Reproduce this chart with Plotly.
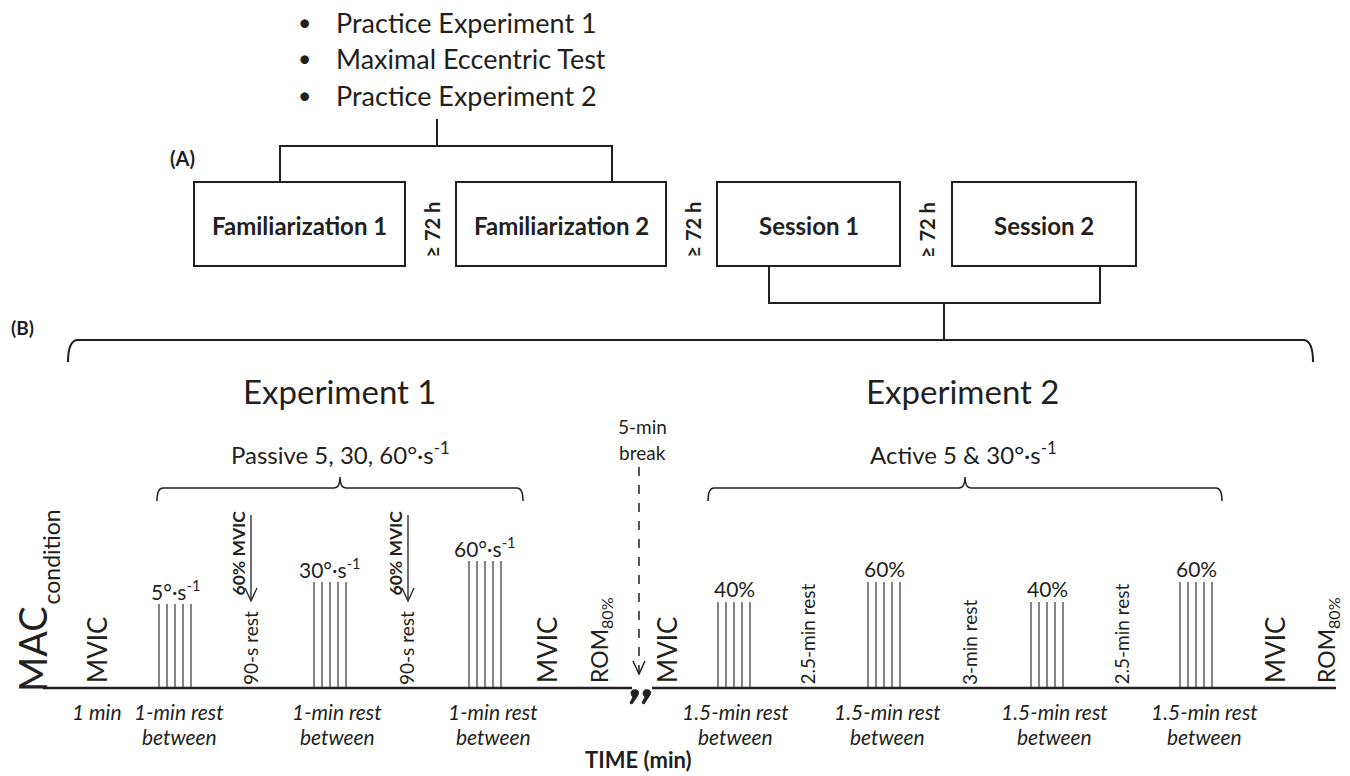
import plotly.graph_objects as go

INK = "#231f20"
FONT = "Lato, 'Open Sans', sans-serif"

# ---------------- data (labels / categories) ----------------
bullet_items = ["Practice Experiment 1", "Maximal Eccentric Test", "Practice Experiment 2"]
visit_labels = ["Familiarization 1", "Familiarization 2", "Session 1", "Session 2"]
gap_label = "≥ 72 h"
panel_labels = ["(A)", "(B)"]
experiment_titles = ["Experiment 1", "Experiment 2"]
experiment_conditions = ["Passive 5, 30, 60°·s<sup>-1</sup>", "Active 5 & 30°·s<sup>-1</sup>"]
exp1_set_labels = ["5°·s<sup>-1</sup>", "30°·s<sup>-1</sup>", "60°·s<sup>-1</sup>"]
exp2_set_labels = ["40%", "60%", "40%", "60%"]
reps_per_set = 5
exp1_cue_labels = ["60% MVIC", "60% MVIC"]
exp1_rest_labels = ["90-s rest", "90-s rest"]
exp2_rest_labels = ["2.5-min rest", "3-min rest", "2.5-min rest"]
exp1_between_labels = [("1 min", ""), ("1-min rest", "between"), ("1-min rest", "between"), ("1-min rest", "between")]
exp2_between_labels = [("1.5-min rest", "between")] * 4
test_labels = ["MVIC", "MVIC", "MVIC", "MVIC"]
rom_label = "ROM<sub>80%</sub>"
break_label = ["5-min", "break"]
axis_title = "TIME (min)"

# ---------------- layout geometry (diagram coordinates) ----------------
W, H = 1350, 776
box_x = [(194, 405), (456, 666), (717, 900), (952, 1136)]
box_y = (182, 266)
timeline_y = 688
exp1_set_x = [175, 330, 485]
exp1_set_top = [604, 582, 561]
exp2_set_x = [734, 884, 1047, 1196]
exp2_set_top = [602, 582, 602, 582]
rep_spacing = 8
cue_x = [251, 408]
cue_label_x = [238, 395]
rest1_x = [250, 406]
rest2_x = [807, 969, 1121]
test_x = [97, 547, 667, 1275]
rom_x = [600, 1327]
between1_x = [97, 179, 337, 493]
between2_x = [735, 887, 1054, 1204]

fig = go.Figure()
shapes = []
annotations = []


def line(x0, y0, x1, y1, w=2, dash="solid"):
    shapes.append(dict(type="line", xref="x", yref="y", x0=x0, y0=y0, x1=x1, y1=y1,
                       line=dict(color=INK, width=w, dash=dash)))


def path(d, w=2, fill=None):
    s = dict(type="path", xref="x", yref="y", path=d, line=dict(color=INK, width=w))
    if fill:
        s["fillcolor"] = fill
    shapes.append(s)


def text(x, y, s, size, bold=False, italic=False, angle=0, xa="center", ya="middle"):
    if bold:
        s = "<b>" + s + "</b>"
    if italic:
        s = "<i>" + s + "</i>"
    annotations.append(dict(x=x, y=y, xref="x", yref="y", text=s, showarrow=False,
                            textangle=angle, xanchor=xa, yanchor=ya,
                            font=dict(family=FONT, size=size, color=INK)))


# ---- Panel A ----
for i, item in enumerate(bullet_items):
    yy = [22, 58, 95][i]
    text(304, yy, "•", 23)
    text(334, yy, item, 27, xa="left")

line(437, 119, 437, 146)
path("M280,182 L280,146 L612,146 L612,182")
text(182, 158, panel_labels[0], 20, bold=True)

for (x0, x1), lab in zip(box_x, visit_labels):
    shapes.append(dict(type="rect", xref="x", yref="y", x0=x0, x1=x1, y0=box_y[0], y1=box_y[1],
                       line=dict(color=INK, width=2)))
    text((x0 + x1) / 2, 225, lab, 24, bold=True)

for i in range(3):
    gx = (box_x[i][1] + box_x[i + 1][0]) / 2
    text(gx + 1, 230, gap_label, 20, bold=True, angle=-90)

path("M769,266 L769,303 L1100,303 L1100,266")
line(944, 303, 944, 340)

# ---- Panel B ----
text(22, 327, panel_labels[1], 19, bold=True)
path("M68,362 Q68,340 78,340 L1303,340 Q1313,340 1313,362")

for title, cond, cx, (b0, b1) in zip(experiment_titles, experiment_conditions,
                                     [340, 963], [(157, 523), (708, 1222)]):
    text(cx, 391, title, 33)
    text(cx, 453, cond, 24)
    c = (b0 + b1) / 2
    path(f"M{b0},501 Q{b0},488 {b0+6},488 L{c-6},488 Q{c},488 {c},477 "
         f"Q{c},488 {c+6},488 L{b1-6},488 Q{b1},488 {b1},501", w=1.5)

# break
text(642, 426, break_label[0], 19)
text(642, 452, break_label[1], 19)
line(639, 467, 639, 673, w=1.5, dash="dash")
path("M633,661 L639,674 L645,661", w=1.5)

# timeline
line(43, timeline_y, 632, timeline_y, w=2.5)
line(652, timeline_y, 1336, timeline_y, w=2.5)
path("M633,690 C637,689 640,691 638,695 L632,704 L630,703 L633,697 C631,696 630,691 633,690 Z", w=1, fill=INK)
path("M645,690 C649,689 652,691 650,695 L644,704 L642,703 L645,697 C643,696 642,691 645,690 Z", w=1, fill=INK)

# MAC condition
text(32, 694, "MAC", 38, angle=-90, ya="bottom")
text(50, 607, "condition", 23, angle=-90, ya="bottom")

for x in test_x:
    text(x, 685, "MVIC", 26, angle=-90, ya="bottom")
for x in rom_x:
    text(x, 685, rom_label, 23, angle=-90, ya="bottom")

# repetition lines (scatter traces through axes)
rx, ry = [], []
for xs, tops, labels in [(exp1_set_x, exp1_set_top, exp1_set_labels),
                         (exp2_set_x, exp2_set_top, exp2_set_labels)]:
    for cx, top, lab in zip(xs, tops, labels):
        for k in range(reps_per_set):
            xx = cx + (k - (reps_per_set - 1) / 2) * rep_spacing
            rx += [xx, xx, None]
            ry += [timeline_y, top, None]
        text(cx, top - 14, lab, 21)
fig.add_trace(go.Scatter(x=rx, y=ry, mode="lines", line=dict(color=INK, width=1.1),
                         hoverinfo="skip", showlegend=False))

# 60% MVIC cues
for ax_, lx, lab in zip(cue_x, cue_label_x, exp1_cue_labels):
    line(ax_, 515, ax_, 600, w=1.3)
    path(f"M{ax_-6},588 L{ax_},601 L{ax_+6},588", w=1.3)
    text(lx, 598, lab, 17.5, bold=True, angle=-90, ya="bottom")

for x, lab in zip(rest1_x, exp1_rest_labels):
    text(x, 687, lab, 19, angle=-90, ya="bottom")
for x, lab in zip(rest2_x, exp2_rest_labels):
    text(x, 687, lab, 19, angle=-90, ya="bottom")

for xs, labs in [(between1_x, exp1_between_labels), (between2_x, exp2_between_labels)]:
    for x, (l1, l2) in zip(xs, labs):
        text(x, 711, l1, 21, italic=True)
        if l2:
            text(x, 736, l2, 21, italic=True)

text(638, 759, axis_title, 22, bold=True)

fig.update_layout(
    width=W, height=H,
    margin=dict(l=0, r=0, t=0, b=0),
    paper_bgcolor="white", plot_bgcolor="white",
    xaxis=dict(range=[0, W], visible=False, fixedrange=True),
    yaxis=dict(range=[H, 0], visible=False, fixedrange=True),
    shapes=shapes, annotations=annotations,
    showlegend=False,
)

fig.write_html("out.html", config={"displayModeBar": False, "staticPlot": True},
               post_script="document.body.style.margin='0';document.body.style.overflow='hidden';")
